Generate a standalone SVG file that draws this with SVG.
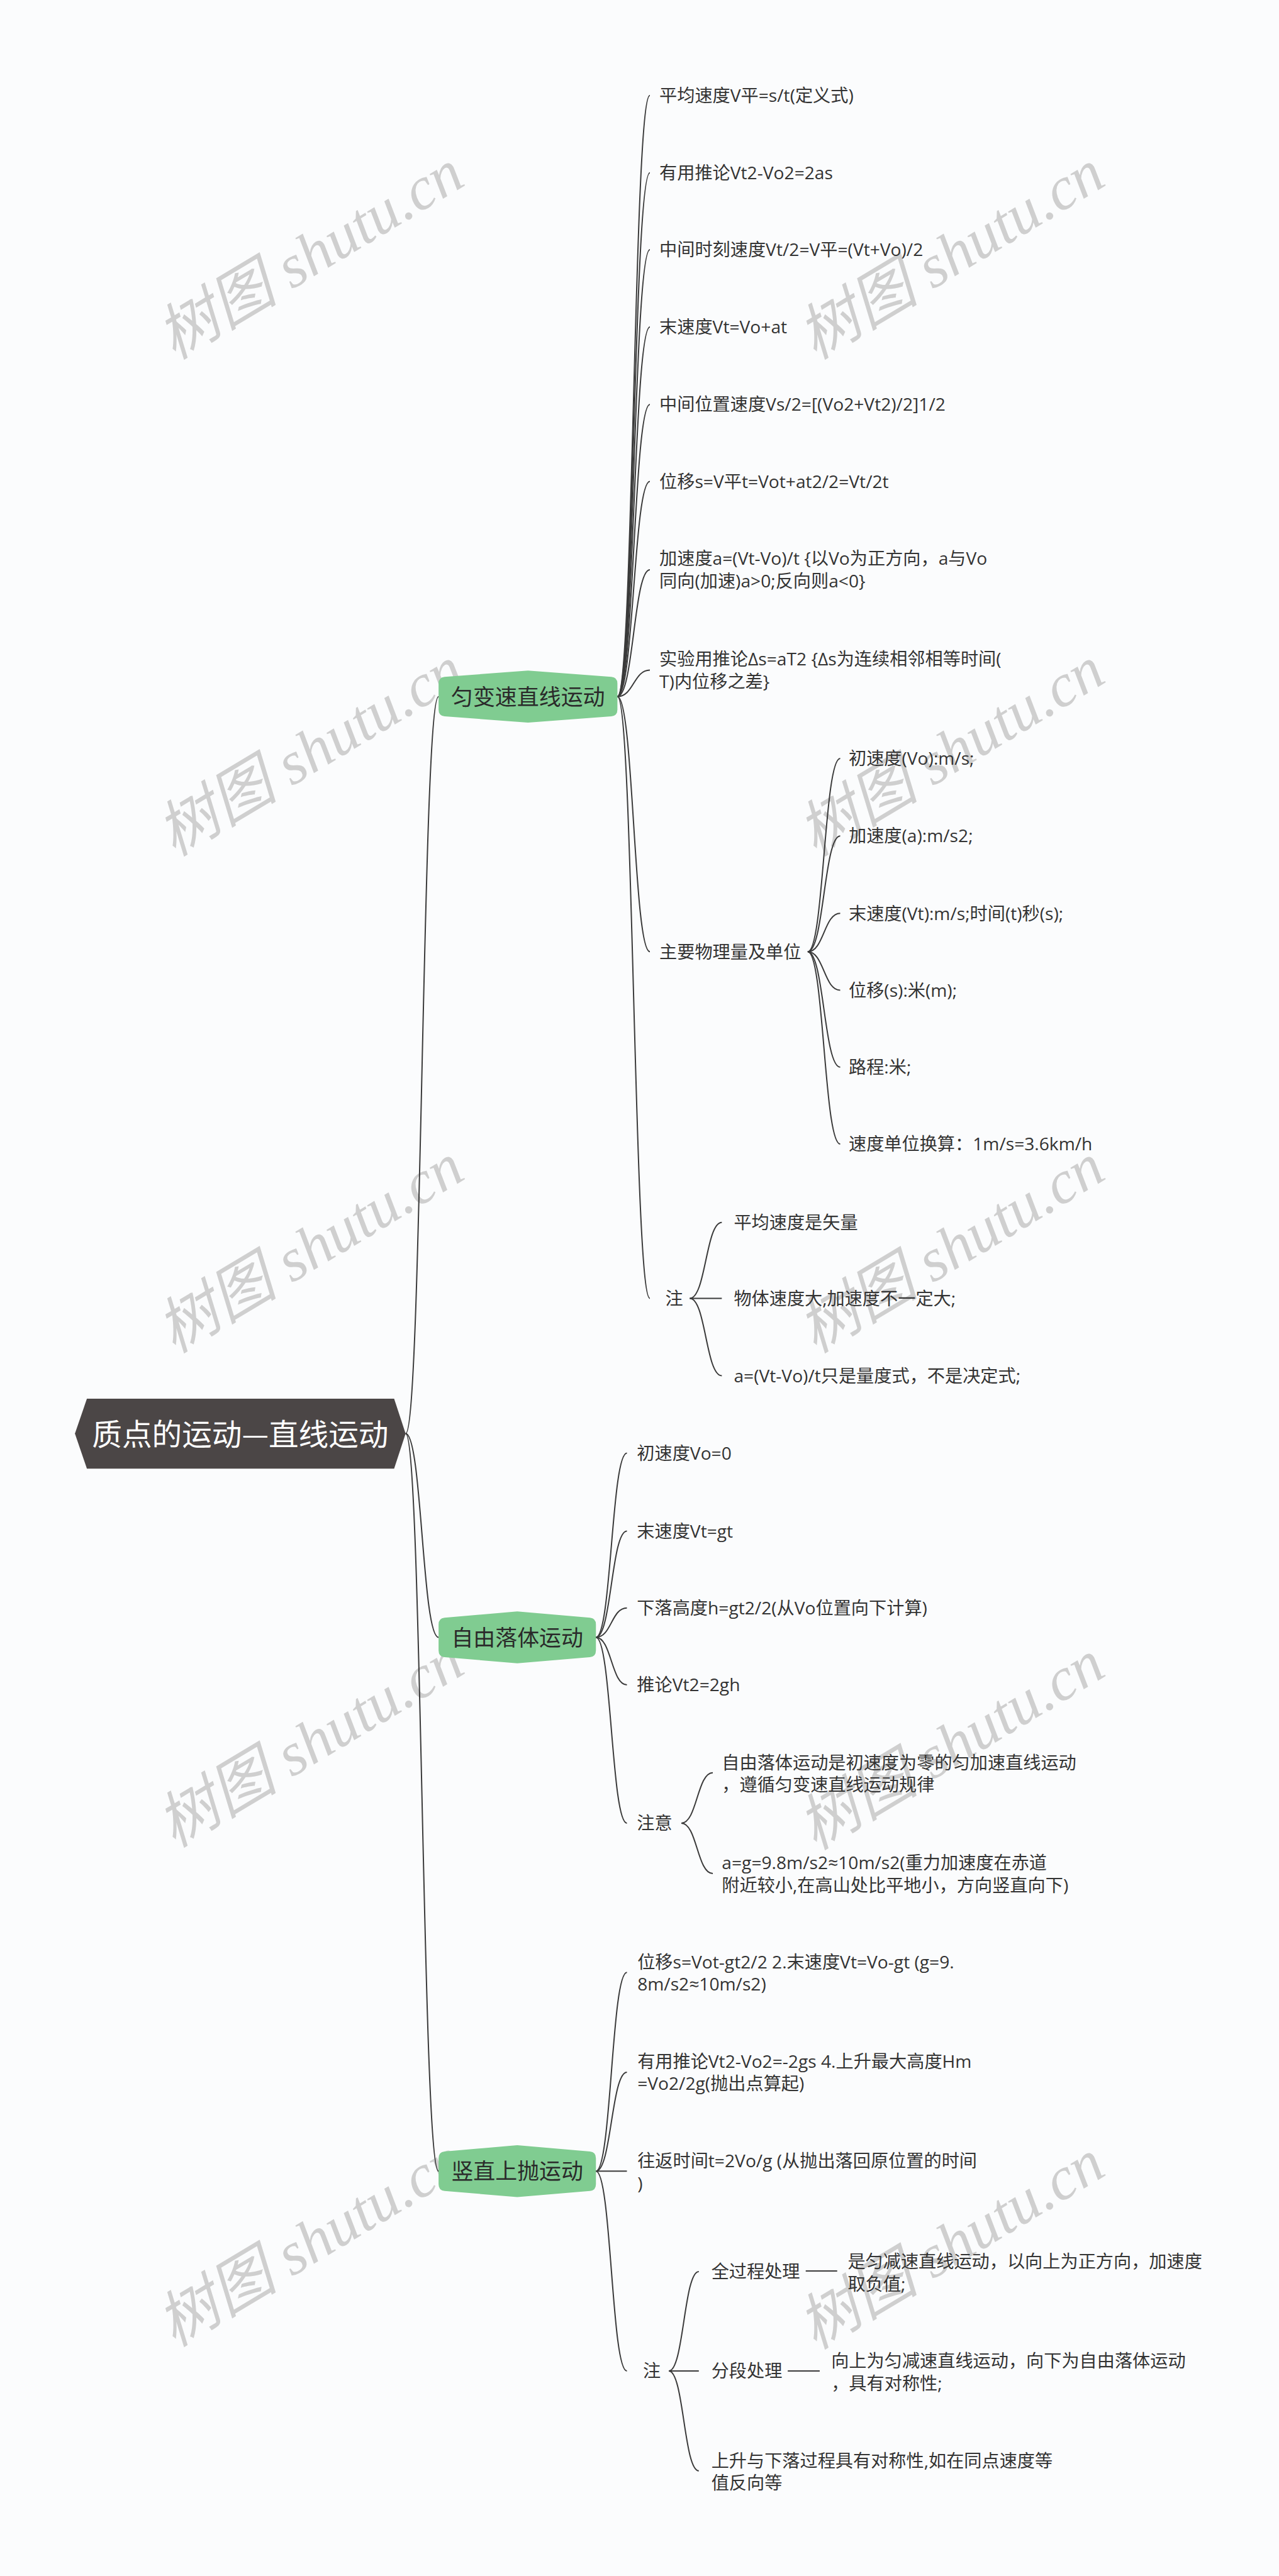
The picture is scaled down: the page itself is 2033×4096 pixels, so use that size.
<svg xmlns="http://www.w3.org/2000/svg" width="2033" height="4096" viewBox="0 0 2033 4096">
<style>
.leaf{font-family:'Open Sans','Noto Sans CJK SC',sans-serif;font-size:35.5px;fill:#333}
.branch{font-family:'Noto Sans CJK SC',sans-serif;font-size:44px;fill:#2a2a2a;text-anchor:middle}
.root{font-family:'Noto Sans CJK SC',sans-serif;font-size:60px;fill:#ffffff;text-anchor:middle}
.conn path{fill:none;stroke:#3a3a3a;stroke-width:2.5}
.wm{font-family:'Liberation Serif','Noto Sans CJK SC',serif;font-style:italic;font-size:122px;fill:#cfcfcf;text-anchor:middle}
.bnode{fill:#80cc91}
</style>
<rect x="0" y="0" width="2033" height="4096" fill="#fbfcfd"/>
<g transform="scale(0.794)">
<g id="watermarks">
<text class="wm" transform="translate(642,545) rotate(-31)">树图 shutu.cn</text>
<text class="wm" transform="translate(1925,545) rotate(-31)">树图 shutu.cn</text>
<text class="wm" transform="translate(642,1540) rotate(-31)">树图 shutu.cn</text>
<text class="wm" transform="translate(1925,1540) rotate(-31)">树图 shutu.cn</text>
<text class="wm" transform="translate(642,2535) rotate(-31)">树图 shutu.cn</text>
<text class="wm" transform="translate(1925,2535) rotate(-31)">树图 shutu.cn</text>
<text class="wm" transform="translate(642,3525) rotate(-31)">树图 shutu.cn</text>
<text class="wm" transform="translate(1925,3530) rotate(-31)">树图 shutu.cn</text>
<text class="wm" transform="translate(642,4525) rotate(-31)">树图 shutu.cn</text>
<text class="wm" transform="translate(1925,4530) rotate(-31)">树图 shutu.cn</text>
</g>
<g id="connectors" class="conn">
<path d="M812 2871 C845 2871 845 1395 878 1395"/>
<path d="M812 2871 C845 2871 845 3279 878 3279"/>
<path d="M812 2871 C845 2871 845 4348 878 4348"/>
<path d="M1236 1395 C1268.5 1395 1268.5 191 1301 191"/>
<path d="M1236 1395 C1268.5 1395 1268.5 346 1301 346"/>
<path d="M1236 1395 C1268.5 1395 1268.5 500 1301 500"/>
<path d="M1236 1395 C1268.5 1395 1268.5 655 1301 655"/>
<path d="M1236 1395 C1268.5 1395 1268.5 810 1301 810"/>
<path d="M1236 1395 C1268.5 1395 1268.5 964 1301 964"/>
<path d="M1236 1395 C1268.5 1395 1268.5 1141 1301 1141"/>
<path d="M1236 1395 C1268.5 1395 1268.5 1342 1301 1342"/>
<path d="M1236 1395 C1268.5 1395 1268.5 1906 1301 1906"/>
<path d="M1236 1395 C1268.5 1395 1268.5 2600 1301 2600"/>
<path d="M1617 1906 C1649.5 1906 1649.5 1519 1682 1519"/>
<path d="M1617 1906 C1649.5 1906 1649.5 1674 1682 1674"/>
<path d="M1617 1906 C1649.5 1906 1649.5 1829 1682 1829"/>
<path d="M1617 1906 C1649.5 1906 1649.5 1983 1682 1983"/>
<path d="M1617 1906 C1649.5 1906 1649.5 2137 1682 2137"/>
<path d="M1617 1906 C1649.5 1906 1649.5 2291 1682 2291"/>
<path d="M1381 2600 C1413 2600 1413 2448 1445 2448"/>
<path d="M1381 2600 L1445 2600"/>
<path d="M1381 2600 C1413 2600 1413 2755 1445 2755"/>
<path d="M1193 3279 C1224 3279 1224 2910 1255 2910"/>
<path d="M1193 3279 C1224 3279 1224 3066 1255 3066"/>
<path d="M1193 3279 C1224 3279 1224 3220 1255 3220"/>
<path d="M1193 3279 C1224 3279 1224 3374 1255 3374"/>
<path d="M1193 3279 C1224 3279 1224 3651 1255 3651"/>
<path d="M1364 3651 C1395.5 3651 1395.5 3550 1427 3550"/>
<path d="M1364 3651 C1395.5 3651 1395.5 3752 1427 3752"/>
<path d="M1193 4348 C1224 4348 1224 3950 1255 3950"/>
<path d="M1193 4348 C1224 4348 1224 4150 1255 4150"/>
<path d="M1193 4348 L1255 4348"/>
<path d="M1193 4348 C1224 4348 1224 4748 1255 4748"/>
<path d="M1339 4748 C1369 4748 1369 4549 1399 4549"/>
<path d="M1339 4748 L1399 4748"/>
<path d="M1339 4748 C1369 4748 1369 4948 1399 4948"/>
<path d="M1613 4548 L1676 4548"/>
<path d="M1577 4748 L1641 4748"/>
</g>
<g id="root">
<polygon points="150,2871 174,2801 789,2801 812,2871 789,2941 174,2941" fill="#4b4646"/>
<text class="root" x="481" y="2894">质点的运动—直线运动</text>
</g>
<g id="b1">
<path class="bnode" d="M878 1369 Q878 1356.5 890 1355.5 L1057 1343 L1224 1355.5 Q1236 1356.5 1236 1369 L1236 1421 Q1236 1433.5 1224 1434.5 L1057 1447 L890 1434.5 Q878 1433.5 878 1421 Z"/>
<text class="branch" x="1057" y="1411.5">匀变速直线运动</text>
</g>
<g id="b2">
<path class="bnode" d="M878 3253 Q878 3240.5 890 3239.5 L1035.5 3227 L1181 3239.5 Q1193 3240.5 1193 3253 L1193 3305 Q1193 3317.5 1181 3318.5 L1035.5 3331 L890 3318.5 Q878 3317.5 878 3305 Z"/>
<text class="branch" x="1035.5" y="3295.5">自由落体运动</text>
</g>
<g id="b3">
<path class="bnode" d="M878 4322 Q878 4309.5 890 4308.5 L1035.5 4296 L1181 4308.5 Q1193 4309.5 1193 4322 L1193 4374 Q1193 4386.5 1181 4387.5 L1035.5 4400 L890 4387.5 Q878 4386.5 878 4374 Z"/>
<text class="branch" x="1035.5" y="4364.5">竖直上抛运动</text>
</g>
<g id="b1-leaves">
<text class="leaf" x="1320" y="204">平均速度V平=s/t(定义式)</text>
<text class="leaf" x="1320" y="359">有用推论Vt2-Vo2=2as</text>
<text class="leaf" x="1320" y="513">中间时刻速度Vt/2=V平=(Vt+Vo)/2</text>
<text class="leaf" x="1320" y="668">末速度Vt=Vo+at</text>
<text class="leaf" x="1320" y="823">中间位置速度Vs/2=[(Vo2+Vt2)/2]1/2</text>
<text class="leaf" x="1320" y="977">位移s=V平t=Vot+at2/2=Vt/2t</text>
<text class="leaf" x="1320" y="1131.5">加速度a=(Vt-Vo)/t {以Vo为正方向，a与Vo</text>
<text class="leaf" x="1320" y="1176.5">同向(加速)a&gt;0;反向则a&lt;0}</text>
<text class="leaf" x="1320" y="1332.5">实验用推论Δs=aT2 {Δs为连续相邻相等时间(</text>
<text class="leaf" x="1320" y="1377.5">T)内位移之差}</text>
</g>
<g id="b1-units">
<text class="leaf" x="1320" y="1919">主要物理量及单位</text>
<text class="leaf" x="1699" y="1532">初速度(Vo):m/s;</text>
<text class="leaf" x="1699" y="1687">加速度(a):m/s2;</text>
<text class="leaf" x="1699" y="1842">末速度(Vt):m/s;时间(t)秒(s);</text>
<text class="leaf" x="1699" y="1996">位移(s):米(m);</text>
<text class="leaf" x="1699" y="2150">路程:米;</text>
<text class="leaf" x="1699" y="2304">速度单位换算：1m/s=3.6km/h</text>
</g>
<g id="b1-note">
<text class="leaf" x="1332" y="2613">注</text>
<text class="leaf" x="1469" y="2461">平均速度是矢量</text>
<text class="leaf" x="1469" y="2613">物体速度大,加速度不一定大;</text>
<text class="leaf" x="1469" y="2768">a=(Vt-Vo)/t只是量度式，不是决定式;</text>
</g>
<g id="b2-leaves">
<text class="leaf" x="1275" y="2923">初速度Vo=0</text>
<text class="leaf" x="1275" y="3079">末速度Vt=gt</text>
<text class="leaf" x="1275" y="3233">下落高度h=gt2/2(从Vo位置向下计算)</text>
<text class="leaf" x="1275" y="3387">推论Vt2=2gh</text>
</g>
<g id="b2-note">
<text class="leaf" x="1275" y="3664">注意</text>
<text class="leaf" x="1445" y="3542.5">自由落体运动是初速度为零的匀加速直线运动</text>
<text class="leaf" x="1445" y="3587.5">，遵循匀变速直线运动规律</text>
<text class="leaf" x="1445" y="3743.5">a=g=9.8m/s2≈10m/s2(重力加速度在赤道</text>
<text class="leaf" x="1445" y="3788.5">附近较小,在高山处比平地小，方向竖直向下)</text>
</g>
<g id="b3-leaves">
<text class="leaf" x="1276" y="3941.5">位移s=Vot-gt2/2 2.末速度Vt=Vo-gt (g=9.</text>
<text class="leaf" x="1276" y="3986.5">8m/s2≈10m/s2)</text>
<text class="leaf" x="1276" y="4140.5">有用推论Vt2-Vo2=-2gs 4.上升最大高度Hm</text>
<text class="leaf" x="1276" y="4185.5">=Vo2/2g(抛出点算起)</text>
<text class="leaf" x="1276" y="4340">往返时间t=2Vo/g (从抛出落回原位置的时间</text>
<text class="leaf" x="1276" y="4385">)</text>
</g>
<g id="b3-note">
<text class="leaf" x="1287" y="4761">注</text>
<text class="leaf" x="1424" y="4562">全过程处理</text>
<text class="leaf" x="1697" y="4541.5">是匀减速直线运动，以向上为正方向，加速度</text>
<text class="leaf" x="1697" y="4586.5">取负值;</text>
<text class="leaf" x="1424" y="4761">分段处理</text>
<text class="leaf" x="1664" y="4740.5">向上为匀减速直线运动，向下为自由落体运动</text>
<text class="leaf" x="1664" y="4785.5">，具有对称性;</text>
<text class="leaf" x="1424" y="4940.5">上升与下落过程具有对称性,如在同点速度等</text>
<text class="leaf" x="1424" y="4985.5">值反向等</text>
</g>
</g>
</svg>
